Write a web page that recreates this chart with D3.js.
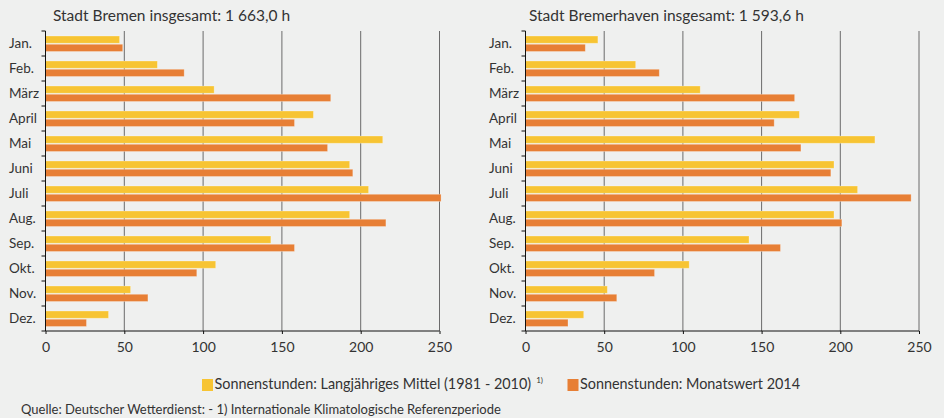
<!DOCTYPE html>
<html>
<head>
<meta charset="utf-8">
<script src="https://cdn.jsdelivr.net/npm/d3@7"></script>
<style>
  body { margin: 0; background: #eff0ef; }
  svg { display: block; font-family: Lato, "Open Sans", sans-serif; }
</style>
</head>
<body>
<div id="chart"></div>
<script>
// monthly sunshine hours
var months = ["Jan.", "Feb.", "März", "April", "Mai", "Juni", "Juli", "Aug.", "Sep.", "Okt.", "Nov.", "Dez."];
var bremenMittel = [47, 71, 107, 170, 214, 193, 205, 193, 143, 108, 54, 40];
var bremen2014 = [49, 88, 181, 158, 179, 195, 251, 216, 158, 96, 65, 26];
var bhvMittel = [46, 70, 111, 174, 222, 196, 211, 196, 142, 104, 52, 37];
var bhv2014 = [38, 85, 171, 158, 175, 194, 245, 201, 162, 82, 58, 27];
var xTicks = [0, 50, 100, 150, 200, 250];
var seriesNames = ["Sonnenstunden: Langjähriges Mittel (1981 - 2010)", "Sonnenstunden: Monatswert 2014"];
var colors = ["#f7c433", "#e77f35"];

var svg = d3.select("#chart")
  .append("svg")
  .attr("width", 944)
  .attr("height", 418);

svg.append("rect").attr("width", 944).attr("height", 418).attr("fill", "#eff0ef");

var yScale = d3.scaleBand().domain(months).range([31, 331]);
var inner = d3.scaleBand().domain([0, 1]).range([5, 20.5]).paddingInner(0.12);

var panels = [
  {title: "Stadt Bremen insgesamt: 1 663,0 h", mittel: bremenMittel, wert: bremen2014, x0: 45.5, x1: 439.5, labelX: 9, titleX: 53},
  {title: "Stadt Bremerhaven insgesamt: 1 593,6 h", mittel: bhvMittel, wert: bhv2014, x0: 525.5, x1: 919, labelX: 489, titleX: 529}
];

panels.forEach(drawPanel);

function drawPanel(p) {
  var xScale = d3.scaleLinear().domain([0, 250]).range([p.x0, p.x1]);
  var g = svg.append("g");

  g.append("text")
    .attr("x", p.titleX)
    .attr("y", 21)
    .attr("font-size", 15.5)
    .attr("fill", "#333")
    .text(p.title);

  // grid
  g.selectAll("line.grid")
    .data(xTicks.slice(1))
    .enter()
    .append("line")
    .attr("class", "grid")
    .attr("x1", function(d) { return xScale(d); })
    .attr("x2", function(d) { return xScale(d); })
    .attr("y1", 31)
    .attr("y2", 331)
    .attr("stroke", "#6b6b6b")
    .attr("stroke-width", 1);

  // bars
  months.forEach(function(m, i) {
    [p.mittel[i], p.wert[i]].forEach(function(v, s) {
      g.append("rect")
        .attr("x", xScale(0))
        .attr("y", yScale(m) + inner(s))
        .attr("width", xScale(v) - xScale(0))
        .attr("height", inner.bandwidth())
        .attr("fill", colors[s])
        .attr("stroke", "rgba(255,255,255,0.35)")
        .attr("stroke-width", 0.8);
    });
  });

  // month labels
  g.selectAll("text.month")
    .data(months)
    .enter()
    .append("text")
    .attr("class", "month")
    .attr("x", p.labelX)
    .attr("y", function(d) { return yScale(d) + yScale.bandwidth() / 2 + 4.8; })
    .attr("font-size", 13.5)
    .attr("fill", "#333")
    .text(function(d) { return d; });

  // y axis line with ticks at band borders
  g.append("line")
    .attr("x1", xScale(0)).attr("x2", xScale(0))
    .attr("y1", 31).attr("y2", 331)
    .attr("stroke", "#111");
  g.selectAll("line.ytick")
    .data(d3.range(months.length + 1))
    .enter()
    .append("line")
    .attr("class", "ytick")
    .attr("x1", xScale(0) - 4)
    .attr("x2", xScale(0))
    .attr("y1", function(i) { return 31 + i * yScale.step(); })
    .attr("y2", function(i) { return 31 + i * yScale.step(); })
    .attr("stroke", "#111");

  var xAxis = d3.axisBottom(xScale)
    .tickValues(xTicks)
    .tickSize(3)
    .tickPadding(8);
  var ax = g.append("g")
    .attr("transform", "translate(0,331)")
    .call(xAxis);
  ax.select(".domain").attr("stroke", "#111").attr("d", "M" + p.x0 + ",0H" + p.x1);
  ax.selectAll("line").attr("stroke", "#111");
  ax.selectAll("text")
    .attr("font-size", 14)
    .attr("font-family", "Lato, sans-serif")
    .attr("fill", "#333");
}

// legend
var legendX = [202, 567.5];
seriesNames.forEach(function(name, s) {
  svg.append("rect")
    .attr("x", legendX[s])
    .attr("y", 379)
    .attr("width", 11)
    .attr("height", 12)
    .attr("fill", colors[s]);
  var t = svg.append("text")
    .attr("x", legendX[s] + 12.5)
    .attr("y", 388.5)
    .attr("font-size", 14.4)
    .attr("fill", "#333")
    .text(name);
  if (s === 0) {
    t.append("tspan")
      .attr("dx", 5)
      .attr("dy", -6)
      .attr("font-size", 8)
      .text("1)");
  }
});

svg.append("text")
  .attr("x", 21)
  .attr("y", 414)
  .attr("font-size", 13)
  .attr("fill", "#333")
  .text("Quelle: Deutscher Wetterdienst: - 1) Internationale Klimatologische Referenzperiode");
</script>
</body>
</html>
